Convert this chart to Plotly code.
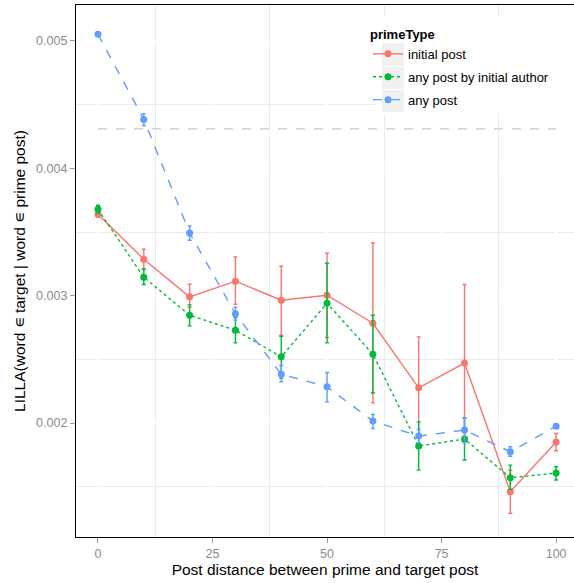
import plotly.graph_objects as go

# ---- data ----
distance = [0, 10, 20, 30, 40, 50, 60, 70, 80, 90, 100]

initial_y     = [0.003639, 0.003286, 0.002991, 0.003114, 0.002965, 0.003004, 0.002784, 0.002277, 0.002471, 0.001461, 0.001851]
initial_upper = [0.003660, 0.003365, 0.003090, 0.003304, 0.003231, 0.003333, 0.003414, 0.002677, 0.003088, 0.001630, 0.001919]
initial_lower = [0.003618, 0.003206, 0.002910, 0.002933, 0.002690, 0.002672, 0.002159, 0.001880, 0.001854, 0.001292, 0.001783]

author_y      = [0.003678, 0.003145, 0.002847, 0.002729, 0.002520, 0.002941, 0.002541, 0.001820, 0.001875, 0.001571, 0.001608]
author_upper  = [0.003710, 0.003210, 0.002928, 0.002829, 0.002682, 0.003255, 0.002847, 0.002010, 0.002040, 0.001670, 0.001657]
author_lower  = [0.003646, 0.003088, 0.002763, 0.002630, 0.002351, 0.002630, 0.002238, 0.001631, 0.001710, 0.001480, 0.001553]

any_y         = [0.005052, 0.004384, 0.003493, 0.002858, 0.002384, 0.002285, 0.002016, 0.001898, 0.001945, 0.001775, 0.001976]
any_upper     = [0.005062, 0.004429, 0.003548, 0.002910, 0.002452, 0.002397, 0.002068, 0.001950, 0.002042, 0.001814, 0.001986]
any_lower     = [0.005042, 0.004335, 0.003435, 0.002808, 0.002324, 0.002167, 0.001958, 0.001846, 0.001846, 0.001740, 0.001966]

series_names = ["initial post", "any post by initial author", "any post"]
reference_x = [0, 100]
reference_level = [0.00431, 0.00431]

x_ticks = [0, 25, 50, 75, 100]
y_ticks = [0.002, 0.003, 0.004, 0.005]

colors = ["#F8766D", "#00BA38", "#619CFF"]
dashes = ["solid", "dot", "dash"]
FONT = "Liberation Sans, Arial, Helvetica, sans-serif"

fig = go.Figure()

# horizontal reference line
fig.add_trace(go.Scatter(x=reference_x, y=reference_level, mode="lines",
                         line=dict(color="#c8c8c8", width=1.2, dash="dash"),
                         showlegend=False, hoverinfo="skip"))

for name, ys, up, lo, col, dsh in zip(
        series_names,
        [initial_y, author_y, any_y],
        [initial_upper, author_upper, any_upper],
        [initial_lower, author_lower, any_lower],
        colors, dashes):
    fig.add_trace(go.Scatter(
        x=distance, y=ys, mode="lines+markers", name=name, legendgroup=name,
        line=dict(color=col, width=1.4, dash=dsh),
        marker=dict(color=col, size=7),
        error_y=dict(type="data", symmetric=False,
                     array=[u - v for u, v in zip(up, ys)],
                     arrayminus=[v - l for v, l in zip(ys, lo)],
                     color=col, thickness=1.4, width=2),
    ))

# legend background and grey key boxes (ggplot style)
L, B, W, H = 76, 537, 498, 532
def px(xp): return (xp - L) / W
def py(yp): return (B - yp) / H
shapes = [dict(type="rect", xref="paper", yref="paper", x0=px(375), x1=1.0,
               y0=py(114), y1=py(16), fillcolor="white", line_width=0, layer="above")]
for top, bot in [(43, 66), (67, 89), (90, 112)]:
    shapes.append(dict(type="rect", xref="paper", yref="paper", x0=px(382), x1=px(404),
                       y0=py(bot), y1=py(top), fillcolor="#f0f0f0", line_width=0, layer="above"))

fig.update_layout(
    width=574, height=583,
    margin=dict(l=76, r=0, t=5, b=46),
    paper_bgcolor="white", plot_bgcolor="white",
    font=dict(family=FONT, color="black"),
    shapes=shapes,
    legend=dict(
        title=dict(text="<b>primeType</b>", font=dict(size=13, family=FONT)),
        font=dict(size=13, family=FONT),
        x=px(368), y=py(22), xanchor="left", yanchor="top",
        bgcolor="rgba(0,0,0,0)", traceorder="grouped", tracegroupgap=3,
        itemwidth=30,
    ),
    xaxis=dict(
        range=[-4.8, 103.9], tickvals=x_ticks, ticktext=[str(t) for t in x_ticks],
        showgrid=True, gridcolor="white", gridwidth=1.5,
        minor=dict(showgrid=True, gridcolor="#ebebeb", gridwidth=1, dtick=12.5, tick0=12.5),
        showline=True, linecolor="black", linewidth=1.2, mirror=True,
        ticks="outside", ticklen=5, tickcolor="#999999", tickwidth=1,
        tickfont=dict(size=12.5, color="#8c8c8c"),
        zeroline=False,
        title=dict(text="Post distance between prime and target post",
                   font=dict(size=15.5, color="black"), standoff=4),
    ),
    yaxis=dict(
        range=[0.001106, 0.005282], tickvals=y_ticks, ticktext=["0.002", "0.003", "0.004", "0.005"],
        showgrid=True, gridcolor="white", gridwidth=1.5,
        minor=dict(showgrid=True, gridcolor="#ebebeb", gridwidth=1,
                   tickvals=[0.0015, 0.0025, 0.0035, 0.0045]),
        showline=True, linecolor="black", linewidth=1.2, mirror=False,
        ticks="outside", ticklen=5, tickcolor="#999999", tickwidth=1,
        tickfont=dict(size=12.5, color="#8c8c8c"),
        zeroline=False,
        title=dict(text="LILLA(word ∊ target | word ∊ prime post)",
                   font=dict(size=15.5, color="black"), standoff=6),
    ),
)

fig.write_html("out.html", post_script="document.body.style.margin='0';",
               config={"displayModeBar": False})
